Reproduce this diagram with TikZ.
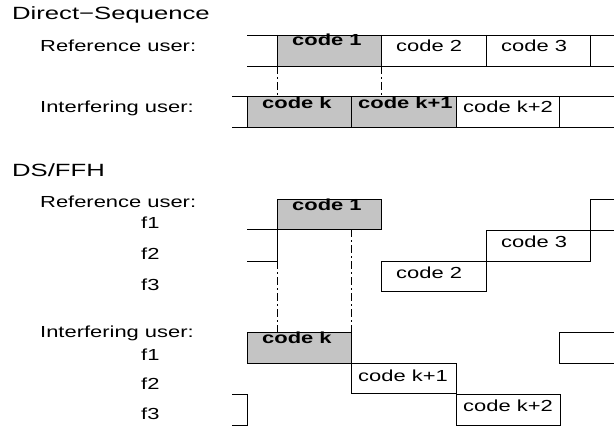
\documentclass[tikz,border=0pt]{standalone}
\usepackage{fontspec}
\setmainfont{Liberation Sans}
\definecolor{boxgray}{RGB}{196,196,196}
\newcommand\hs[1]{\scalebox{1.37}[1]{#1}}
\newcommand\hh[1]{\scalebox{1.45}[1]{#1}}
\tikzset{
  lbl/.style={anchor=base west, inner sep=0pt, font=\fontsize{16}{19}\selectfont},
  hdr/.style={anchor=base west, inner sep=0pt, font=\fontsize{17.7}{21}\selectfont},
  bld/.style={anchor=base west, inner sep=0pt, font=\fontsize{16}{19}\selectfont\bfseries},
  ln/.style={line width=0.75pt, draw=black},
  shade/.style={fill=boxgray},
  dd/.style={line width=1pt, dash pattern=on 8pt off 3pt on 2pt off 3pt}
}
\begin{document}
\begin{tikzpicture}[x=1pt,y=-1pt]
\useasboundingbox (0,0) rectangle (616,428);
% ---------- Direct-Sequence ----------
\fill[shade] (277,35) rectangle (381,66);
\fill[shade] (247,96) rectangle (456,127);
\node[hdr] (h1) at (12,20) {\hh{Direct−Sequence}};
\node[lbl] (r1) at (40,52) {\hs{Reference user:}};
\node[lbl] (i1) at (40,113) {\hs{Interfering user:}};
\node[bld] (c1) at (292,46) {\hs{code 1}};
\node[lbl] (c2) at (396,52) {\hs{code 2}};
\node[lbl] (c3) at (501,52) {\hs{code 3}};
\node[bld] (ck) at (262,108) {\hs{code k}};
\node[bld] (ck1) at (358,108) {\hs{code k+1}};
\node[lbl] (ck2) at (463,113) {\hs{code k+2}};
\draw[ln] (247,35) -- (614,35);
\draw[ln] (247,66) -- (614,66);
\foreach \x in {277,381,486,590} \draw[ln] (\x,35) -- (\x,66);
\draw[ln] (232,96) -- (614,96);
\draw[ln] (232,127) -- (614,127);
\foreach \x in {247,351,456,559} \draw[ln] (\x,96) -- (\x,127);
\draw[dd] (277,66) -- (277,96);
\draw[dd] (381,66) -- (381,96);
% ---------- DS/FFH ----------
\node[hdr] (h2) at (12,176) {\hh{DS/FFH}};
\node[lbl] (r2) at (40,207) {\hs{Reference user:}};
\node[lbl] (rf1) at (141,228) {\hs{f1}};
\node[lbl] (rf2) at (141,259) {\hs{f2}};
\node[lbl] (rf3) at (141,290) {\hs{f3}};
\node[lbl] (i2) at (40,337) {\hs{Interfering user:}};
\node[lbl] (if1) at (141,360) {\hs{f1}};
\node[lbl] (if2) at (141,389) {\hs{f2}};
\node[lbl] (if3) at (141,419) {\hs{f3}};
\draw[ln,shade] (277,199) rectangle (381,229);
\node[bld] (d1) at (292,210) {\hs{code 1}};
\draw[ln] (247,229) -- (277,229);
\draw[ln] (247,261) -- (277,261);
\draw[ln] (277,229) -- (277,261);
\draw[ln] (381,261) rectangle (486,291);
\draw[ln] (486,230) rectangle (590,261);
\draw[ln] (614,199) -- (590,199) -- (590,230) -- (614,230);
\node[lbl] (d3) at (501,247) {\hs{code 3}};
\node[lbl] (d2) at (396,278) {\hs{code 2}};
\draw[dd] (277,261) -- (277,332);
\draw[dd] (351,229) -- (351,332);
\draw[ln,shade] (247,332) rectangle (351,363);
\node[bld] (dk) at (262,343) {\hs{code k}};
\draw[ln] (351,363) rectangle (456,393);
\draw[ln] (456,394) rectangle (560,425);
\node[lbl] (dk1) at (358,381) {\hs{code k+1}};
\node[lbl] (dk2) at (463,411) {\hs{code k+2}};
\draw[ln] (614,332) -- (559,332) -- (559,363) -- (614,363);
\draw[ln] (232,394) -- (247,394) -- (247,425) -- (232,425);
\end{tikzpicture}
\end{document}
